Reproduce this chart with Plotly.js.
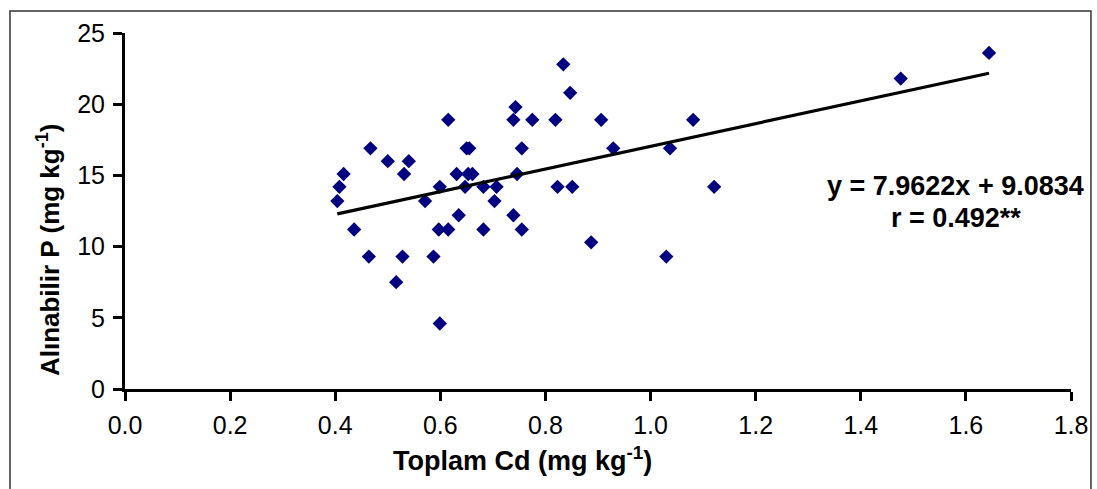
<!DOCTYPE html>
<html>
<head>
<meta charset="utf-8">
<script src="https://cdn.plot.ly/plotly-3.0.1.min.js"></script>
<style>
html,body{margin:0;padding:0;background:#fff;}
#chart{width:1097px;height:489px;}
</style>
</head>
<body>
<div id="chart"></div>
<script>
// Toplam Cd (mg kg-1)
const cd = [0.834,0.847,0.743,0.615,0.739,0.775,0.819,0.906,1.081,0.467,
            0.650,0.655,0.755,0.929,1.037,0.500,0.540,0.416,0.531,0.631,
            0.653,0.661,0.746,0.408,0.599,0.647,0.682,0.707,0.823,0.851,
            1.121,0.404,0.571,0.703,0.635,0.739,0.436,0.597,0.615,0.682,
            0.755,0.887,0.464,0.528,0.587,1.030,0.516,0.599,1.644,1.476];
// Alınabilir P (mg kg-1)
const p = [22.8,20.8,19.8,18.9,18.9,18.9,18.9,18.9,18.9,16.9,
           16.9,16.9,16.9,16.9,16.9,16.0,16.0,15.1,15.1,15.1,
           15.1,15.1,15.1,14.2,14.2,14.2,14.2,14.2,14.2,14.2,
           14.2,13.2,13.2,13.2,12.2,12.2,11.2,11.2,11.2,11.2,
           11.2,10.3,9.3,9.3,9.3,9.3,7.5,4.6,23.6,21.8];
// Trend line coefficients (from the chart's equation)
const slope = 7.9622;
const intercept = 9.0834;
const rText = "r = 0.492**";
const xTicks = [0,0.2,0.4,0.6,0.8,1.0,1.2,1.4,1.6,1.8];
const yTicks = [0,5,10,15,20,25];

const xMin = Math.min(...cd), xMax = Math.max(...cd);
const lineX = [xMin, xMax];
const lineY = lineX.map(v => slope*v + intercept);

const FAM = "Liberation Sans, Arial, sans-serif";
const tickFont = {family:FAM, size:25, color:"#000"};

const data = [
  {x: cd, y: p, type:"scatter", mode:"markers",
   marker:{symbol:"diamond", size:11, color:"#000080"}, showlegend:false, hoverinfo:"x+y"},
  {x: lineX, y: lineY, type:"scatter", mode:"lines",
   line:{color:"#000", width:3.2}, showlegend:false, hoverinfo:"skip"}
];

const layout = {
  width:1097, height:489,
  margin:{l:125, r:26, t:33, b:100},
  paper_bgcolor:"#fff", plot_bgcolor:"#fff",
  xaxis:{range:[0,1.8], tickvals:xTicks, ticktext:xTicks.map(v=>v.toFixed(1)),
         showgrid:false, zeroline:false, showline:true, linecolor:"#000", linewidth:3,
         ticks:"outside", ticklen:9, tickwidth:3, tickcolor:"#000", tickfont:tickFont,
         ticklabelstandoff:3},
  yaxis:{range:[0,25], tickvals:yTicks, ticktext:yTicks.map(String),
         showgrid:false, zeroline:false, showline:true, linecolor:"#000", linewidth:3,
         ticks:"outside", ticklen:9, tickwidth:3, tickcolor:"#000", tickfont:tickFont,
         ticklabelstandoff:3},
  annotations:[
    {xref:"paper", yref:"paper", x:0.4207, y:-0.197, text:"<b>Toplam Cd (mg kg<sup>-1</sup>)</b>",
     showarrow:false, font:{family:FAM, size:27, color:"#000"}, xanchor:"center", yanchor:"middle"},
    {xref:"paper", yref:"paper", x:-0.0814, y:0.393, text:"<b>Alınabilir P (mg kg<sup>-1</sup>)</b>",
     showarrow:false, font:{family:FAM, size:26, color:"#000"}, textangle:-90, xanchor:"center", yanchor:"middle"},
    {xref:"paper", yref:"paper", x:0.8784, y:0.5702,
     text:"<b>y = " + slope + "x + " + intercept + "</b>",
     showarrow:false, font:{family:FAM, size:27, color:"#000"}, xanchor:"center", yanchor:"middle"},
    {xref:"paper", yref:"paper", x:0.8784, y:0.4803, text:"<b>" + rText + "</b>",
     showarrow:false, font:{family:FAM, size:27, color:"#000"}, xanchor:"center", yanchor:"middle"}
  ],
  shapes:[
    {type:"rect", xref:"paper", yref:"paper", x0:-0.1216, x1:1.0211, y0:-0.30, y1:1.0618,
     line:{color:"#333", width:1.5}, fillcolor:"rgba(0,0,0,0)", layer:"below"}
  ]
};

Plotly.newPlot("chart", data, layout, {displayModeBar:false, staticPlot:true});
</script>
</body>
</html>
